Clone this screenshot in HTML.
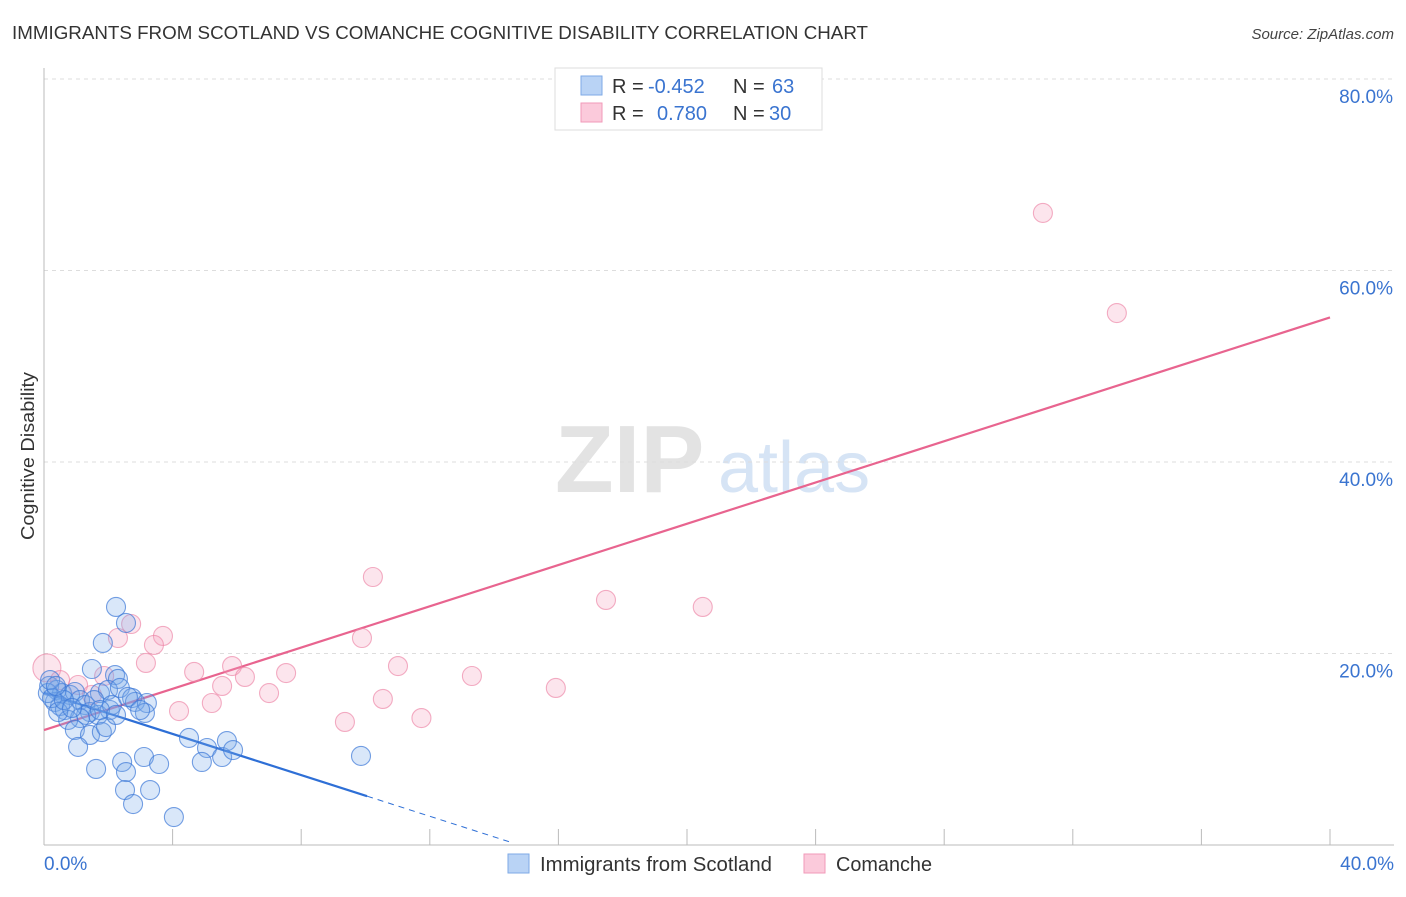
<!DOCTYPE html>
<html><head><meta charset="utf-8"><style>
body{margin:0;background:#fff;font-family:"Liberation Sans",sans-serif;}
svg text{font-family:"Liberation Sans",sans-serif;}
</style></head><body>
<svg id="chart" width="1406" height="892" xmlns="http://www.w3.org/2000/svg">
<text x="12" y="39" font-size="18.5" fill="#333" textLength="856" lengthAdjust="spacingAndGlyphs">IMMIGRANTS FROM SCOTLAND VS COMANCHE COGNITIVE DISABILITY CORRELATION CHART</text>
<text x="1394" y="39" font-size="15" fill="#444" font-style="italic" text-anchor="end">Source: ZipAtlas.com</text>
<text transform="translate(34,456) rotate(-90)" font-size="18" fill="#333" text-anchor="middle" textLength="168" lengthAdjust="spacingAndGlyphs">Cognitive Disability</text>
<g>
<text x="555" y="492" font-size="96" fill="#e3e3e3" font-family="Liberation Serif" font-weight="bold">ZIP</text>
<text x="718" y="492" font-size="72" fill="#d6e4f5">atlas</text>
</g>
<g id="grid"></g><g id="axes"></g><g id="lines"></g><g id="points"></g>
<g>
<rect x="555" y="68" width="267" height="62" fill="#fff" stroke="#ddd"/>
<rect x="581" y="76" width="21" height="19" fill="#b9d3f5" stroke="#7ea9e6"/>
<rect x="581" y="103" width="21" height="19" fill="#fbcadb" stroke="#f29ab8"/>
<text x="612" y="93" font-size="20" fill="#333">R =</text><text x="648" y="93" font-size="20" fill="#3a74d0">-0.452</text>
<text x="733" y="93" font-size="20" fill="#333">N =</text><text x="772" y="93" font-size="20" fill="#3a74d0">63</text>
<text x="612" y="120" font-size="20" fill="#333">R =</text><text x="657" y="120" font-size="20" fill="#3a74d0">0.780</text>
<text x="733" y="120" font-size="20" fill="#333">N =</text><text x="769" y="120" font-size="20" fill="#3a74d0">30</text>
</g>
<g>
<rect x="508" y="854" width="21" height="19" fill="#b9d3f5" stroke="#7ea9e6"/>
<text x="540" y="871" font-size="20" fill="#333" textLength="232" lengthAdjust="spacingAndGlyphs">Immigrants from Scotland</text>
<rect x="804" y="854" width="21" height="19" fill="#fbcadb" stroke="#f29ab8"/>
<text x="836" y="871" font-size="20" fill="#333" textLength="96" lengthAdjust="spacingAndGlyphs">Comanche</text>
</g>
</svg>
<script>
const yTicks=[20,40,60,80];
const yTickLabels=["20.0%","40.0%","60.0%","80.0%"];
const xEnds=["0.0%","40.0%"];
const blueX=[2.24,2.55,1.83,1.49,2.21,2.30,0.16,0.40,0.56,0.81,0.96,0.34,0.50,0.65,1.12,1.28,1.43,1.74,1.99,2.36,2.74,2.83,3.20,3.14,2.05,1.68,1.31,1.12,0.75,0.96,1.43,1.80,1.93,1.06,1.62,2.43,2.55,2.52,3.30,2.77,3.11,3.58,4.04,4.51,5.07,4.91,5.54,5.69,5.88,9.86,0.12,0.25,0.44,0.62,0.87,1.56,2.11,2.61,1.74,2.24,2.99,0.19,0.37];
const blueY=[24.86,23.19,21.10,18.38,17.75,17.34,16.61,16.19,15.87,15.67,15.98,14.94,14.52,14.10,15.14,14.62,13.89,15.87,16.19,16.40,15.35,14.94,14.83,13.79,14.10,13.58,13.58,13.26,13.06,12.01,11.49,11.80,12.32,10.24,7.94,8.67,7.62,5.74,5.74,4.28,9.19,8.46,2.92,11.18,10.13,8.67,9.19,10.86,9.92,9.30,15.87,15.35,13.89,15.14,14.31,15.14,14.62,15.46,14.10,13.58,14.10,17.23,16.61];
const pinkX=[31.07,33.37,10.23,17.48,20.49,9.89,3.70,3.42,2.71,2.30,3.17,4.67,5.85,7.53,11.01,13.31,15.92,6.25,5.54,7.00,5.22,4.20,9.36,10.54,11.74,0.09,0.50,1.06,1.49,1.87];
const pinkY=[66.01,55.56,27.99,25.59,24.86,21.62,21.83,20.89,23.08,21.62,19.01,18.07,18.69,17.96,18.69,17.65,16.40,17.55,16.61,15.87,14.83,13.99,12.85,15.25,13.26,18.49,17.23,16.71,15.67,17.65];
const pinkLine=[[0,12.0],[40,55.1]];
const blueLine=[[0,15.9],[10.05,5.1]];
const blueDash=[[10.05,5.1],[14.6,0.2]];
const NS="http://www.w3.org/2000/svg";
const sx=v=>44+v/40*1286, sy=v=>845-v/20*191.5;
function mk(t,a,p){const e=document.createElementNS(NS,t);for(const k in a)e.setAttribute(k,a[k]);p.appendChild(e);return e;}
const grid=document.getElementById('grid'),axes=document.getElementById('axes'),lines=document.getElementById('lines'),pts=document.getElementById('points');
yTicks.forEach((t,i)=>{
 const l=mk('line',{x1:44,x2:1394,y1:sy(t),y2:sy(t),stroke:'#ddd','stroke-dasharray':'4,4'},grid);
 
 
 const tx=mk('text',{x:1393,y:sy(t)+24,'font-size':19,fill:'#3a74d0','text-anchor':'end'},axes);
 tx.textContent=yTickLabels[i];
 
 
});
const ya=mk('line',{x1:44,x2:44,y1:68,y2:845,stroke:'#bbb'},axes);


const xa=mk('line',{x1:44,x2:1394,y1:845,y2:845,stroke:'#bbb'},axes);


for(let v=0;v<=40;v+=4){const tk=mk('line',{x1:sx(v),x2:sx(v),y1:829,y2:845,stroke:'#bbb'},axes);
 
 }
[[0,'start',44],[40,'end',1394]].forEach((d,i)=>{const t=mk('text',{x:d[2],y:870,'font-size':19,fill:'#3a74d0','text-anchor':d[1]},axes);t.textContent=xEnds[i];
 
 });
function drawPts(X,Y,fill,stroke,name){X.forEach((x,i)=>{const c=mk('circle',{cx:sx(x),cy:sy(Y[i]),r:(name==='comanche-point'&&i===25)?14:9.5,fill:fill,stroke:stroke,'stroke-width':1.1},pts);
 
 });}
drawPts(pinkX,pinkY,'rgba(246,160,190,0.28)','rgba(236,130,165,0.65)','comanche-point');
drawPts(blueX,blueY,'rgba(120,170,235,0.28)','rgba(60,120,215,0.7)','scotland-point');
function ln(p,col,w,dash,name){const l=mk('line',{x1:sx(p[0][0]),y1:sy(p[0][1]),x2:sx(p[1][0]),y2:sy(p[1][1]),stroke:col,'stroke-width':w},lines);if(dash)l.setAttribute('stroke-dasharray',dash);
 
 }
ln(pinkLine,'#e8648f',2.2,null,'comanche-trendline');
ln(blueLine,'#2e6fd6',2.2,null,'scotland-trendline');
ln(blueDash,'#2e6fd6',1,'6,5','scotland-trendline-extension');
</script>
</body></html>
